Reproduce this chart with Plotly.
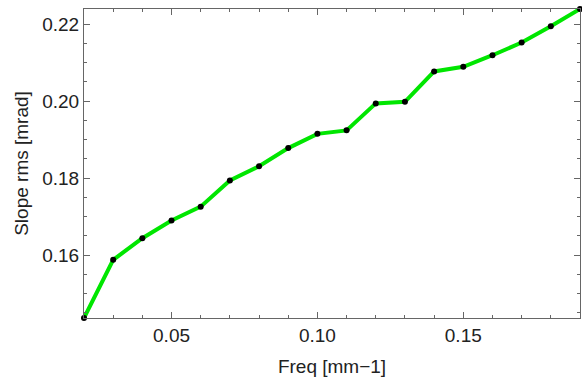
import plotly.graph_objects as go

freq = [0.02, 0.03, 0.04, 0.05, 0.06, 0.07, 0.08, 0.09, 0.10, 0.11,
        0.12, 0.13, 0.14, 0.15, 0.16, 0.17, 0.18, 0.19]
slope_rms = [0.1437, 0.1588, 0.1644, 0.1690, 0.1726, 0.1794, 0.1831, 0.1878, 0.1915, 0.1924,
             0.1994, 0.1998, 0.2077, 0.2089, 0.2119, 0.2152, 0.2194, 0.2239]

x_title = "Freq [mm\u22121]"
y_title = "Slope rms [mrad]"

font_family = "Liberation Sans, Arial, Helvetica, sans-serif"
frame_color = "#666666"
text_color = "#222222"

fig = go.Figure()
fig.add_trace(go.Scatter(
    x=freq, y=slope_rms, mode="lines",
    line=dict(color="#00e600", width=4),
    showlegend=False, cliponaxis=False,
))
fig.add_trace(go.Scatter(
    x=freq, y=slope_rms, mode="markers",
    marker=dict(color="black", size=6),
    showlegend=False, cliponaxis=False,
))

axis_common = dict(
    showgrid=False, zeroline=False, automargin=False,
    showline=True, linecolor=frame_color, linewidth=1,
    mirror="ticks", ticks="inside", ticklen=6, tickwidth=1, tickcolor=frame_color,
    tickfont=dict(family=font_family, size=19, color=text_color),
)

fig.update_layout(
    width=582, height=379,
    margin=dict(l=84, r=2, t=9, b=61),
    paper_bgcolor="white", plot_bgcolor="white",
    xaxis=dict(
        range=[min(freq), max(freq)],
        tick0=0, dtick=0.05, tickformat=".2f",
        minor=dict(dtick=0.01, tick0=0, ticks="inside", ticklen=3, tickcolor=frame_color),
        title=dict(text=x_title, font=dict(family=font_family, size=19, color=text_color), standoff=14),
        **axis_common,
    ),
    yaxis=dict(
        range=[min(slope_rms), max(slope_rms)],
        tick0=0, dtick=0.02, tickformat=".2f",
        minor=dict(dtick=0.005, tick0=0, ticks="inside", ticklen=3, tickcolor=frame_color),
        title=dict(text=y_title, font=dict(family=font_family, size=19, color=text_color), standoff=8),
        **axis_common,
    ),
)

fig.write_html("out.html", config={"displayModeBar": False},
               post_script="document.body.style.margin='0px';")
